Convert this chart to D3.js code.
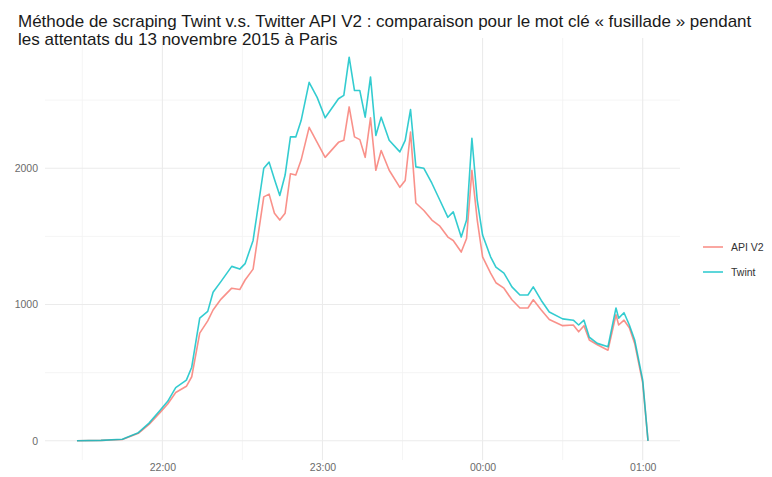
<!DOCTYPE html>
<html lang="fr">
<head>
<meta charset="UTF-8">
<title>Twint vs API V2</title>
<script src="https://cdn.jsdelivr.net/npm/d3@7"></script>
<style>
    html, body { margin: 0; padding: 0; background: #fff; }
    svg { display: block; font-family: "Liberation Sans", Arial, Helvetica, sans-serif; }
</style>
</head>
<body>
<script>
// horaires (soir du 13/11, puis après minuit le 14/11)
const times = ["21:28","21:37","21:45","21:51","21:55","21:59","22:02","22:05","22:09","22:11",
    "22:14","22:17","22:19","22:22","22:26","22:29","22:31","22:34","22:38","22:40",
    "22:42","22:44","22:46","22:48","22:50","22:52","22:55","22:58","23:01","23:06",
    "23:08","23:10","23:12","23:14","23:16","23:18","23:20","23:22","23:25","23:29",
    "23:31","23:33","23:35","23:38","23:41","23:44","23:47","23:49","23:52","23:54",
    "23:56","23:58","00:00","00:03","00:05","00:08","00:11","00:14","00:17","00:19",
    "00:22","00:25","00:30","00:34","00:36","00:38","00:40","00:43","00:47","00:50",
    "00:51","00:53","00:55","00:57","01:00","01:02"]

const twint = [0,3,12,60,130,220,290,390,445,540,
    900,950,1090,1170,1280,1260,1300,1470,2000,2045,
    1920,1800,1950,2230,2230,2350,2630,2520,2370,2510,
    2535,2815,2570,2570,2375,2670,2240,2375,2205,2120,
    2205,2430,2010,2000,1890,1765,1640,1680,1495,1620,
    2220,1765,1510,1350,1275,1230,1130,1070,1070,1130,
    1030,945,895,885,850,885,760,715,690,975,
    900,940,850,740,445,0]

const apiV2 = [0,3,10,55,120,205,270,355,400,470,
    790,880,960,1040,1120,1110,1180,1260,1790,1810,
    1670,1620,1670,1960,1950,2060,2300,2190,2080,2190,
    2205,2450,2230,2210,2080,2370,1985,2130,1985,1860,
    1910,2265,1745,1690,1620,1575,1495,1470,1385,1485,
    1985,1620,1350,1230,1160,1120,1035,975,975,1035,
    960,890,845,850,800,845,740,705,665,925,
    850,885,830,715,425,0]

const seriesNames = ["API V2", "Twint"]
const seriesColors = ["#F8766D", "#00BFC4"]
const yBreaks = [0, 1000, 2000]
const yMinor = [500, 1500, 2500]
const xBreaks = ["22:00", "23:00", "00:00", "01:00"]
const xMinor = ["21:30", "22:30", "23:30", "00:30"]

const W = 772, H = 477
const panel = { left: 45, right: 680, top: 38, bottom: 460 }

// "HH:MM" -> Date (après minuit = lendemain)
const parse = d3.timeParse("%Y-%m-%d %H:%M")
function toDate(s) {
    const h = +s.slice(0, 2)
    return parse((h < 12 ? "2015-11-14 " : "2015-11-13 ") + s)
}

const dates = times.map(toDate)
const series = [apiV2, twint].map((vals, k) => ({
    name: seriesNames[k],
    color: seriesColors[k],
    values: vals.map((v, i) => ({ t: dates[i], v: v }))
}))

const svg = d3.select("body").append("svg")
    .attr("width", W).attr("height", H)

// échelles (expansion de 5% façon ggplot)
const tExt = d3.extent(dates)
const span = tExt[1] - tExt[0]
const x = d3.scaleTime()
    .domain([new Date(+tExt[0] - span * 0.056), new Date(+tExt[1] + span * 0.056)])
    .range([panel.left, panel.right])

const yMax = d3.max(twint)
const y = d3.scaleLinear()
    .domain([-yMax * 0.05, yMax * 1.05])
    .range([panel.bottom, panel.top])

// grille mineure
const grid = svg.append("g")
grid.selectAll(".hminor").data(yMinor).join("line")
    .attr("x1", panel.left).attr("x2", panel.right)
    .attr("y1", d => y(d)).attr("y2", d => y(d))
    .attr("stroke", "#f2f2f2").attr("stroke-width", 0.8)
grid.selectAll(".vminor").data(xMinor).join("line")
    .attr("x1", d => x(toDate(d))).attr("x2", d => x(toDate(d)))
    .attr("y1", panel.top).attr("y2", panel.bottom)
    .attr("stroke", "#f2f2f2").attr("stroke-width", 0.8)

// grille majeure
grid.selectAll(".hmajor").data(yBreaks).join("line")
    .attr("x1", panel.left).attr("x2", panel.right)
    .attr("y1", d => y(d)).attr("y2", d => y(d))
    .attr("stroke", "#ebebeb").attr("stroke-width", 1.1)
grid.selectAll(".vmajor").data(xBreaks).join("line")
    .attr("x1", d => x(toDate(d))).attr("x2", d => x(toDate(d)))
    .attr("y1", panel.top).attr("y2", panel.bottom)
    .attr("stroke", "#ebebeb").attr("stroke-width", 1.1)

// axes (sans trait ni graduations)
const yAxis = svg.append("g")
    .attr("transform", `translate(${panel.left},0)`)
    .call(d3.axisLeft(y).tickValues(yBreaks).tickSize(0).tickPadding(7).tickFormat(d3.format("d")))
yAxis.select(".domain").remove()
yAxis.selectAll("text").attr("fill", "#6b6b6b").attr("font-size", 10.5)
    .style("font-family", "'Liberation Sans', Arial, sans-serif")

const xAxis = svg.append("g")
    .attr("transform", `translate(0,${panel.bottom})`)
    .call(d3.axisBottom(x).tickValues(xBreaks.map(toDate)).tickSize(0).tickPadding(4)
        .tickFormat(d3.timeFormat("%H:%M")))
xAxis.select(".domain").remove()
xAxis.selectAll("text").attr("fill", "#6b6b6b").attr("font-size", 10.5)
    .style("font-family", "'Liberation Sans', Arial, sans-serif")

// courbes
const line = d3.line().x(d => x(d.t)).y(d => y(d.v))
svg.append("g").selectAll("path").data(series).join("path")
    .attr("d", d => line(d.values))
    .attr("fill", "none")
    .attr("stroke", d => d.color)
    .attr("stroke-opacity", 0.8)
    .attr("stroke-width", 1.6)
    .attr("stroke-linejoin", "round")

// légende
const legend = svg.append("g").attr("transform", "translate(703,247)")
const item = legend.selectAll("g").data(series).join("g")
    .attr("transform", (d, i) => `translate(0,${i * 25})`)
item.append("line")
    .attr("x1", 0).attr("x2", 20).attr("y1", 0).attr("y2", 0)
    .attr("stroke", d => d.color).attr("stroke-opacity", 0.8).attr("stroke-width", 1.6)
item.append("text")
    .attr("x", 28).attr("y", 0)
    .attr("dominant-baseline", "central")
    .attr("font-size", 10.5).attr("fill", "#333")
    .text(d => d.name)

// titre
const titleLines = [
    "Méthode de scraping Twint v.s. Twitter API V2 : comparaison pour le mot clé « fusillade » pendant",
    "les attentats du 13 novembre 2015 à Paris"
]
const title = svg.append("g")
const t0 = title.append("text").attr("x", 18).attr("y", 27)
    .attr("font-size", 15).attr("fill", "#1a1a1a").text(titleLines[0])
// ajuster la taille pour couvrir la largeur observée
const wanted = 734
const fs = 15 * wanted / t0.node().getComputedTextLength()
t0.attr("font-size", fs)
title.append("text").attr("x", 18).attr("y", 45)
    .attr("font-size", fs).attr("fill", "#1a1a1a").text(titleLines[1])
</script>
</body>
</html>
